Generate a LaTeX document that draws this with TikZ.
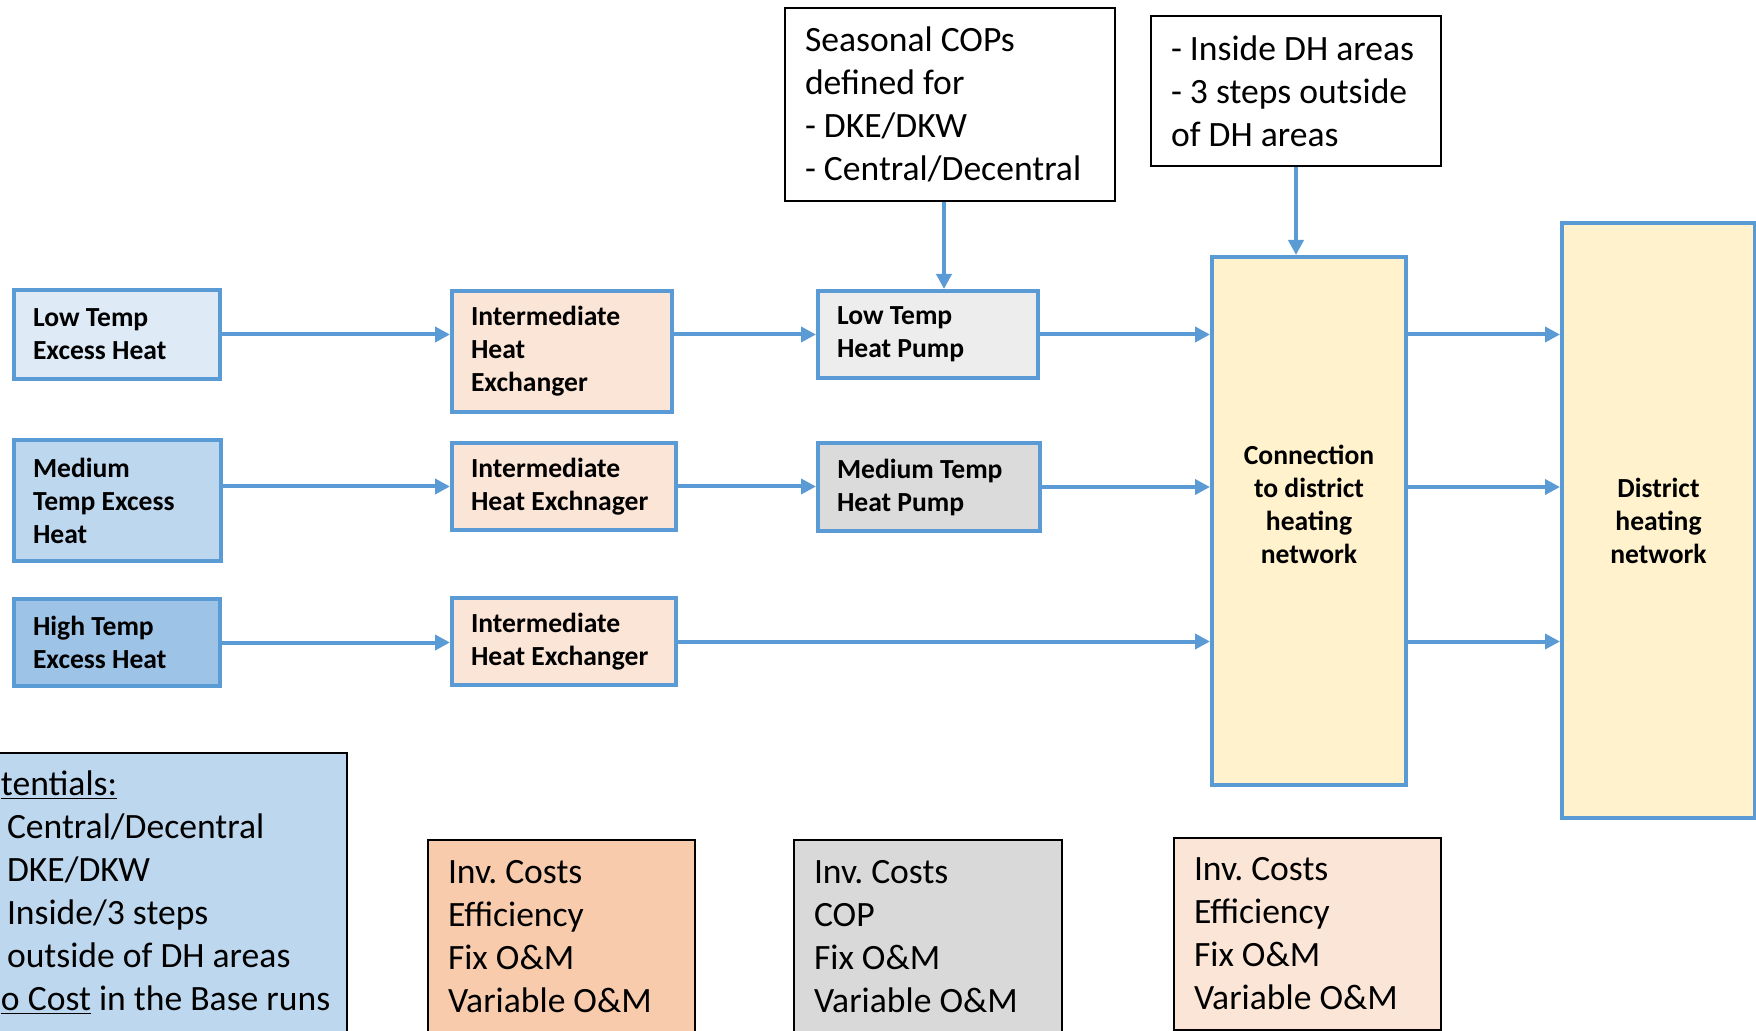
\documentclass[tikz,border=0pt]{standalone}
\usepackage{fontspec}
\setmainfont{Carlito}
\usepackage{tikz}
\usetikzlibrary{arrows.meta}
\frenchspacing

\definecolor{accent}{HTML}{5B9BD5}
\definecolor{lowfill}{HTML}{DEEBF7}
\definecolor{medfill}{HTML}{BDD7EE}
\definecolor{highfill}{HTML}{9DC3E6}
\definecolor{hefill}{HTML}{FBE5D6}
\definecolor{lhpfill}{HTML}{EDEDED}
\definecolor{mhpfill}{HTML}{DBDBDB}
\definecolor{dhfill}{HTML}{FFF2CC}
\definecolor{orangefill}{HTML}{F8CBAD}
\definecolor{grayfill}{HTML}{D9D9D9}

\begin{document}
\begin{tikzpicture}[x=0.5pt, y=-0.5pt,
    box/.style={draw=accent, line width=2pt, anchor=north west, align=flush left,
      inner xsep=9.5pt, inner ysep=0pt, font=\bfseries\fontsize{13.8}{16.5}\selectfont},
    note/.style={draw=black, line width=1pt, anchor=north west, align=flush left,
      inner xsep=10pt, inner ysep=0pt, font=\fontsize{17.8}{21.5}\selectfont},
    flow/.style={draw=accent, line width=2pt, -{Triangle[length=7.5pt,width=7.5pt]}}]
            \useasboundingbox (0,0) rectangle (1756,1031);
            \clip (0,0) rectangle (1756,1031);

            % Nodes
            \node[box, fill=lowfill, text width=84pt, minimum height=44.5pt] (low) at (12,288) {Low Temp\\Excess Heat};
            \node[box, fill=medfill, text width=84.5pt, minimum height=60.5pt] (medium) at (12,438) {Medium\\Temp Excess\\Heat};
            \node[box, fill=highfill, text width=84pt, minimum height=43.5pt] (high) at (12,597) {High Temp\\Excess Heat};
            \node[box, fill=hefill, text width=91pt, minimum height=60.5pt] (ihe1) at (450,289) {Intermediate\\Heat\\Exchanger};
            \node[box, fill=hefill, text width=93pt, minimum height=43.5pt] (ihe2) at (450,441) {Intermediate\\Heat Exchnager};
            \node[box, fill=hefill, text width=93pt, minimum height=43.5pt] (ihe3) at (450,596) {Intermediate\\Heat Exchanger};
            \node[box, fill=lhpfill, text width=91pt, minimum height=43.5pt] (lhp) at (816,289) {Low Temp\\Heat Pump};
            \node[box, fill=mhpfill, text width=92pt, minimum height=44pt] (mhp) at (816,441) {Medium Temp\\Heat Pump};
            \node[box, fill=dhfill, align=flush center, text width=78pt, minimum height=264pt] (conn) at (1210,255) {Connection\\to district\\heating\\network\\\mbox{}};
            \node[box, fill=dhfill, align=flush center, text width=77.5pt, minimum height=297.5pt] (dhn) at (1560,221) {District\\heating\\network};

            \node[note, fill=white, text width=145pt, minimum height=96.5pt] (cops) at (784,7) {Seasonal COPs\\defined for\\- DKE/DKW\\- Central/Decentral};
            \node[note, fill=white, text width=125pt, minimum height=75pt] (areas) at (1150,15) {- Inside DH areas\\- 3 steps outside\\of DH areas};
            \node[note, fill=medfill, inner xsep=6pt, text width=167pt, minimum height=140pt] (pot) at (-12,752) {\underline{tentials:}\\\hspace*{3pt}Central/Decentral\\\hspace*{3pt}DKE/DKW\\\hspace*{3pt}Inside/3 steps\\\hspace*{3pt}outside of DH areas\\\underline{o Cost} in the Base runs};
            \node[note, fill=orangefill, text width=113.5pt, minimum height=97pt] (cost1) at (427,839) {Inv. Costs\\Efficiency\\Fix O\&M\\Variable O\&M};
            \node[note, fill=grayfill, text width=114pt, minimum height=97pt] (cost2) at (793,839) {Inv. Costs\\COP\\Fix O\&M\\Variable O\&M};
            \node[note, fill=hefill, text width=113.5pt, minimum height=96pt] (cost3) at (1173,837) {Inv. Costs\\Efficiency\\Fix O\&M\\Variable O\&M};

            % Arrows
            \draw[flow] (low.east) -- (low.east -| ihe1.west);
            \draw[flow] (medium.east |- ihe2.west) -- (ihe2.west);
            \draw[flow] (high.east) -- (high.east -| ihe3.west);
            \draw[flow] (ihe1.east |- lhp.west) -- (lhp.west);
            \draw[flow] (ihe2.east) -- (ihe2.east -| mhp.west);
            \draw[flow] (lhp.east) -- (lhp.east -| conn.west);
            \draw[flow] (mhp.east) -- (mhp.east -| conn.west);
            \draw[flow] (ihe3.east) -- (ihe3.east -| conn.west);
            \draw[flow] (lhp.east -| conn.east) -- (lhp.east -| dhn.west);
            \draw[flow] (mhp.east -| conn.east) -- (mhp.east -| dhn.west);
            \draw[flow] (ihe3.east -| conn.east) -- (ihe3.east -| dhn.west);
            \draw[flow] ([xshift=-3pt]cops.south) -- ([xshift=-3pt]cops.south |- lhp.north);
            \draw[flow] (areas.south) -- (areas.south |- conn.north);
          \end{tikzpicture}
\end{document}
